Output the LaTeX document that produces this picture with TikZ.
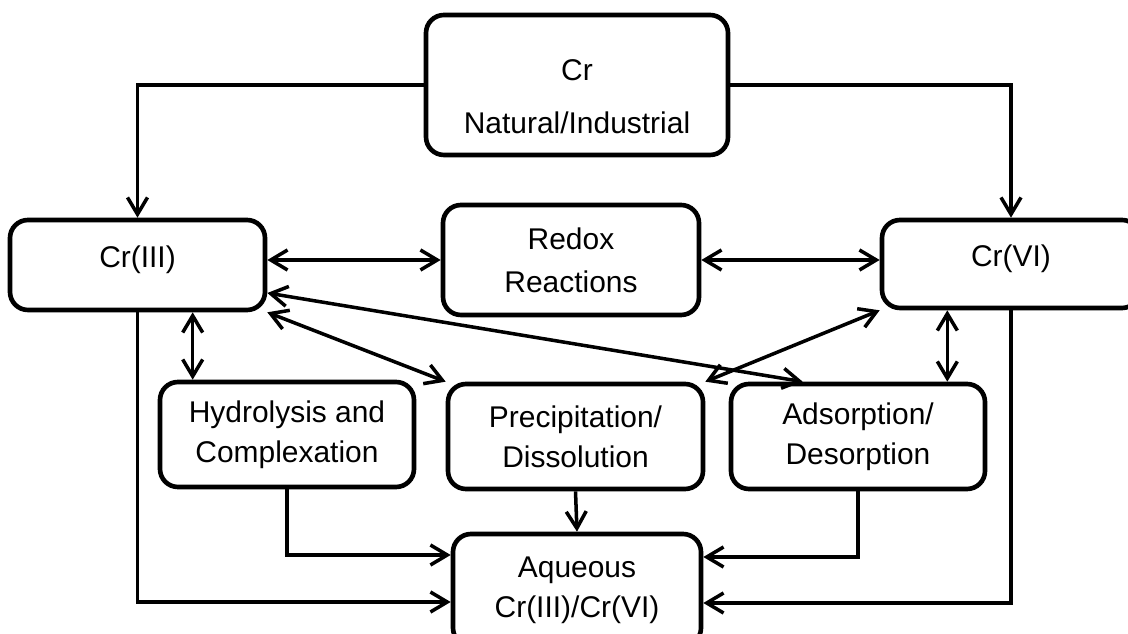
\documentclass[tikz,border=0pt]{standalone}
\usepackage{fontspec}
\setmainfont{Liberation Sans}
\usetikzlibrary{arrows.meta,positioning}

\begin{document}
\begin{tikzpicture}[
    box/.style={draw, line width=3.3pt, rounded corners=0.45cm, align=center, inner sep=0pt},
    link/.style={line width=2.5pt, -{Straight Barb[length=4.2mm,width=5mm]}},
    twoway/.style={line width=2.5pt, {Straight Barb[length=4.2mm,width=5mm]}-{Straight Barb[length=4.2mm,width=5mm]}},
    every node/.style={font=\fontsize{21.3pt}{28.5pt}\selectfont}
  ]
  \useasboundingbox (0,0) rectangle (28.2,15.85);
  \clip (0,0) rectangle (28.2,15.85);

  %% source
  \node[box, minimum width=7.55cm, minimum height=3.5cm] (src) at (14.425,13.725) {\rule{0pt}{32pt}Cr\\[9pt]Natural/Industrial};

  %% oxidation states
  \node[box, minimum width=6.375cm, minimum height=2.25cm, text depth=12pt] (cr3) at (3.4375,9.225) {Cr(III)};
  \node[box, minimum width=6.45cm, minimum height=2.2cm, text depth=12pt] (cr6) at (25.275,9.25) {Cr(VI)};
  \node[box, minimum width=6.4cm, minimum height=2.75cm] (redox) at (14.275,9.35) {Redox\\[2pt]Reactions};

  %% processes
  \node[box, minimum width=6.35cm, minimum height=2.625cm] (hyd) at (7.175,4.9875) {Hydrolysis and\\Complexation};
  \node[box, minimum width=6.375cm, minimum height=2.625cm] (pre) at (14.3875,4.9375) {Precipitation/\\Dissolution};
  \node[box, minimum width=6.35cm, minimum height=2.625cm] (ads) at (21.45,4.9375) {Adsorption/\\Desorption};

  %% aqueous
  \node[box, minimum width=6.2cm, minimum height=2.8cm] (aq) at (14.425,1.1) {Aqueous\\Cr(III)/Cr(VI)};

  %% helpers
  \coordinate (h3) at ([xshift=0.875cm]hyd.north west);
  \coordinate (a6) at ([xshift=-1cm]ads.north east);

  %% from source
  \draw[link] (src.west) -| (cr3.north);
  \draw[link] (src.east) -| (cr6.north);

  %% exchanges
  \draw[twoway] (redox.west -| cr3.east) -- (redox.west);
  \draw[twoway] (redox.east) -- (redox.east -| cr6.west);
  \draw[twoway] (h3 |- cr3.south) -- (h3);
  \draw[twoway] (a6 |- cr6.south) -- (a6);
  \draw[twoway] (cr3.south east) -- (pre.north west);
  \draw[twoway] ([yshift=-0.7cm]cr3.east) -- ([xshift=1.85cm]ads.north west);
  \draw[twoway] (cr6.south west) -- (pre.north east);

  %% to aqueous
  \draw[link] (pre.south) -- (aq.north);
  \draw[link] (hyd.south) |- ([yshift=0.875cm]aq.west);
  \draw[link] (ads.south) |- ([yshift=0.825cm]aq.east);
  \draw[link] (cr3.south) |- ([yshift=-0.3cm]aq.west);
  \draw[link] (cr6.south) |- ([yshift=-0.325cm]aq.east);
\end{tikzpicture}
\end{document}
